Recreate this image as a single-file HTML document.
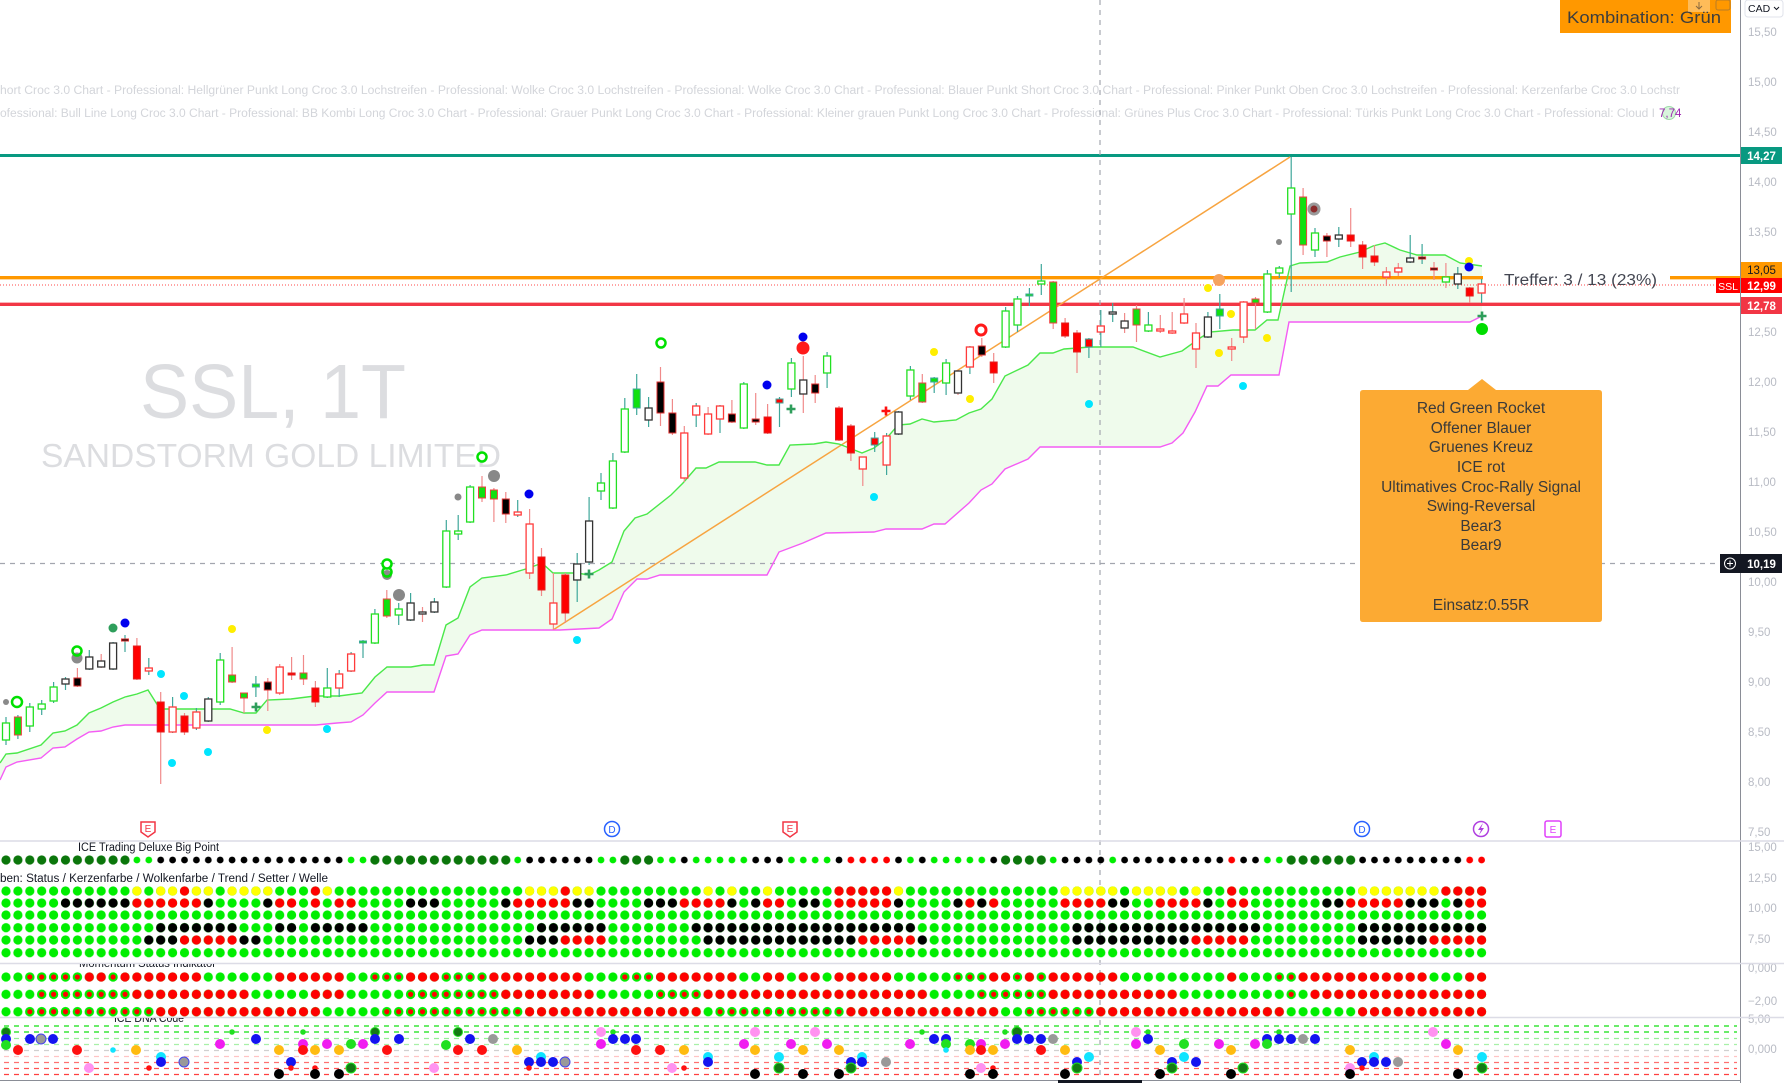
<!DOCTYPE html>
<html><head><meta charset="utf-8"><style>
html,body{margin:0;padding:0;background:#fff;}
body{width:1784px;height:1083px;overflow:hidden;}
svg{display:block;font-family:"Liberation Sans","DejaVu Sans",sans-serif;}
.gh{fill:#fff;stroke:#22e022;stroke-width:1.3}
.gf{fill:#10e010;stroke:#ee4040;stroke-width:1}
.rf{fill:#ff0000;stroke:#e02020;stroke-width:1}
.rh{fill:#fff;stroke:#ff3b3b;stroke-width:1.3}
.kf{fill:#000;stroke:#e03030;stroke-width:1}
.kh{fill:#fff;stroke:#333;stroke-width:1.3}
.ax{fill:#b8bbc4;font-size:11.5px}
.b{fill:#1414f0}.m{fill:#f01cf0}.p{fill:#ff92f0}.o{fill:#ffbb10}.c{fill:#10e4ff}.g{fill:#20e020}.dg{fill:#157a15;stroke:#20e020;stroke-width:1}.r{fill:#ff1010}.k{fill:#000}.gr{fill:#999;stroke:#4444ee;stroke-width:1}
.cy{fill:#00e5ff}.ye{fill:#ffee00}
</style></head><body>
<svg width="1784" height="1083" viewBox="0 0 1784 1083" xmlns="http://www.w3.org/2000/svg">
<defs>
<pattern id="pG" width="11.9" height="12" patternUnits="userSpaceOnUse"><circle cx="6" cy="6" r="4.6" fill="#00ee00"/></pattern>
<pattern id="pY" width="11.9" height="12" patternUnits="userSpaceOnUse"><circle cx="6" cy="6" r="4.6" fill="#ffff00"/></pattern>
<pattern id="pR" width="11.9" height="12" patternUnits="userSpaceOnUse"><circle cx="6" cy="6" r="4.6" fill="#ff0000"/></pattern>
<pattern id="pK" width="11.9" height="12" patternUnits="userSpaceOnUse"><circle cx="6" cy="6" r="4.6" fill="#000"/></pattern>
<pattern id="pX" width="11.9" height="12" patternUnits="userSpaceOnUse"><circle cx="6" cy="6" r="4.6" fill="#00ee00"/><circle cx="6" cy="6" r="2.6" fill="#ff0000"/></pattern>
<pattern id="pD" width="11.9" height="12" patternUnits="userSpaceOnUse"><circle cx="6" cy="6" r="4.6" fill="#0b760b"/></pattern>
<pattern id="pL" width="11.9" height="12" patternUnits="userSpaceOnUse"><circle cx="6" cy="6" r="3.4" fill="#00ee00"/></pattern>
<pattern id="pKs" width="11.9" height="12" patternUnits="userSpaceOnUse"><circle cx="6" cy="6" r="3.4" fill="#000"/></pattern>
<pattern id="pRs" width="11.9" height="12" patternUnits="userSpaceOnUse"><circle cx="6" cy="6" r="3.4" fill="#ff0000"/></pattern>
<clipPath id="c3"><rect x="0" y="964" width="1740" height="60"/></clipPath>
<clipPath id="c4"><rect x="0" y="1018" width="1740" height="70"/></clipPath>
</defs>

<!-- top info text -->
<text x="0" y="94" font-size="11.5" fill="#d3d5da" textLength="1680" lengthAdjust="spacingAndGlyphs">hort Croc 3.0 Chart - Professional: Hellgrüner Punkt Long Croc 3.0 Lochstreifen - Professional: Wolke Croc 3.0 Lochstreifen - Professional: Wolke Croc 3.0 Chart - Professional: Blauer Punkt Short Croc 3.0 Chart - Professional: Pinker Punkt Oben Croc 3.0 Lochstreifen - Professional: Kerzenfarbe Croc 3.0 Lochstr</text>
<text x="0" y="117" font-size="11.5" fill="#d3d5da" textLength="1655" lengthAdjust="spacingAndGlyphs">ofessional: Bull Line Long Croc 3.0 Chart - Professional: BB Kombi Long Croc 3.0 Chart - Professional: Grauer Punkt Long Croc 3.0 Chart - Professional: Kleiner grauen Punkt Long Croc 3.0 Chart - Professional: Grünes Plus Croc 3.0 Chart - Professional: Türkis Punkt Long Croc 3.0 Chart - Professional: Cloud I</text>
<circle cx="1669" cy="113" r="6.5" fill="#d8f5dc" stroke="#9fdca9" stroke-width="1"/>
<text x="1659" y="117" font-size="11.5" fill="#9c27b0">7,74</text>

<!-- watermark -->
<text x="140" y="418" font-size="77" fill="#dcdde0" textLength="266" lengthAdjust="spacingAndGlyphs">SSL, 1T</text>
<text x="41" y="467" font-size="33" fill="#dcdde0" textLength="460" lengthAdjust="spacingAndGlyphs">SANDSTORM GOLD LIMITED</text>

<!-- cloud -->
<polygon fill="#effbec" points="0,763 6,754 17,753 41,745 53,733 65,731 77,725 89,713 101,708 113,702 125,697 137,694 148,690 160,709 230,709 244,713 256,713 267,700 291,699 315,696 339,696 362,693 375,677 387,667 411,667 423,665 434,665 446,625 458,618 470,587 482,578 506,575 529,568 542,563 553,573 577,573 589,575 599,570 612,562 624,531 635,518 647,514 671,495 683,483 696,468 706,468 719,462 755,462 767,465 779,465 790,445 814,444 826,442 839,444 862,453 874,448 885,440 898,425 910,424 922,419 934,422 956,420 969,413 981,409 992,399 1005,376 1028,365 1040,353 1053,353 1064,349 1078,348 1089,347 1133,347 1160,357 1182,351 1200,338 1210,332 1233,330 1255,330 1267,320 1278,320 1290,266 1300,263 1327,262 1340,257 1360,252 1373,246 1385,243 1400,250 1417,255 1445,255 1460,263 1482,266 1482,316 1470,322 1289,322 1279,375 1231,375 1218,386 1207,386 1195,412 1183,433 1172,443 1160,447 1040,447 1028,459 1005,469 992,484 981,490 969,503 945,524 934,524 922,529 886,529 874,532 826,533 803,543 779,552 767,575 660,575 647,579 637,579 624,592 612,619 599,628 560,630 482,630 470,635 458,654 446,656 434,692 387,692 375,703 363,715 351,722 337,723 316,725 125,725 113,727 101,731 89,732 77,739 65,747 53,748 41,758 17,762 6,767 0,780"/>

<!-- horizontal levels -->
<line x1="0" y1="155.5" x2="1740" y2="155.5" stroke="#089981" stroke-width="3"/>
<line x1="0" y1="277.7" x2="1483" y2="277.7" stroke="#ff9800" stroke-width="3.4"/>
<line x1="1670" y1="277.7" x2="1740" y2="277.7" stroke="#ff9800" stroke-width="3.4"/>
<line x1="0" y1="285" x2="1716" y2="285" stroke="#ff4a4a" stroke-width="1" stroke-dasharray="1 2"/>
<line x1="0" y1="304.3" x2="1740" y2="304.3" stroke="#f23645" stroke-width="3.4"/>

<!-- crosshair -->
<line x1="0" y1="563.5" x2="1720" y2="563.5" stroke="#a3a6af" stroke-width="1.2" stroke-dasharray="5 5"/>
<line x1="1100" y1="0" x2="1100" y2="1080" stroke="#a3a6af" stroke-width="1.2" stroke-dasharray="5 5"/>

<!-- trend line -->
<line x1="553" y1="630" x2="1290" y2="157" stroke="#f7a440" stroke-width="1.5"/>

<!-- cloud lines -->
<polyline fill="none" stroke="#4ae84a" stroke-width="1.4" points="0,763 6,754 17,753 41,745 53,733 65,731 77,725 89,713 101,708 113,702 125,697 137,694 148,690 160,709 230,709 244,713 256,713 267,700 291,699 315,696 339,696 362,693 375,677 387,667 411,667 423,665 434,665 446,625 458,618 470,587 482,578 506,575 529,568 542,563 553,573 577,573 589,575 599,570 612,562 624,531 635,518 647,514 671,495 683,483 696,468 706,468 719,462 755,462 767,465 779,465 790,445 814,444 826,442 839,444 862,453 874,448 885,440 898,425 910,424 922,419 934,422 956,420 969,413 981,409 992,399 1005,376 1028,365 1040,353 1053,353 1064,349 1078,348 1089,347 1133,347 1160,357 1182,351 1200,338 1210,332 1233,330 1255,330 1267,320 1278,320 1290,266 1300,263 1327,262 1340,257 1360,252 1373,246 1385,243 1400,250 1417,255 1445,255 1460,263 1482,266"/>
<polyline fill="none" stroke="#f45cf4" stroke-width="1.4" points="0,780 6,767 17,762 41,758 53,748 65,747 77,739 89,732 101,731 113,727 125,725 316,725 337,723 351,722 363,715 375,703 387,692 434,692 446,656 458,654 470,635 482,630 560,630 599,628 612,619 624,592 637,579 647,579 660,575 767,575 779,552 803,543 826,533 874,532 886,529 922,529 934,524 945,524 969,503 981,490 992,484 1005,469 1028,459 1040,447 1160,447 1172,443 1183,433 1195,412 1207,386 1218,386 1231,375 1279,375 1289,322 1470,322 1482,316"/>

<!-- wicks -->
<path fill="none" stroke="#3fa79b" stroke-width="1.2" d="M6 717V745M17.9 715V739M29.8 703V732M41.7 700V715M53.6 682V703M65.5 677V690M89.3 650V670M113.1 642V670M125 635V652M148.8 658V675M172.6 697V733M196.4 708V730M208.3 697V722M220.2 653V705M255.9 676V697M327.3 668V698M339.2 670V697M351.1 652V672M363 640V658M374.9 609V644M398.7 603V625M410.6 593V621M434.4 598V613M446.3 520V588M458.2 515V540M470.1 485V523M517.7 500V517M577.2 553V602M589.1 497V565M601 473V500M612.9 453V509M624.8 398V453M636.7 374V415M648.6 397V427M696.2 403V427M720 405V433M743.8 382V429M779.5 397V427M791.4 358V397M827.1 352V388M874.7 432V452M886.6 433V475M898.5 411V435M910.4 366V400M934.2 377V393M946.1 359V395M969.9 346V374M1005.6 307V348M1017.5 296V332M1029.4 288V306M1041.3 264V295M1088.9 338V358M1100.8 310V347M1112.7 303V322M1148.4 312V332M1207.9 312V338M1219.8 294V329M1267.4 270V313M1279.3 266V278M1291.2 157V292M1315 228V257M1338.8 227V247M1410.2 235V263M1422.1 244V264M1457.8 267V289M1481.6 279V303"/>
<path fill="none" stroke="#f08a8a" stroke-width="1.2" d="M77.4 668V687M101.2 654V668M136.9 638V680M160.7 692V784M184.5 713V735M232.1 647V683M244 693V713M267.8 678V711M279.7 664V695M291.6 657V680M303.5 655V685M315.4 681V707M386.8 590V618M422.5 607V622M482 476V502M493.9 488V522M505.8 492V523M529.6 509V579M541.5 548V596M553.4 573V630M565.3 573V623M660.5 367V426M672.4 399V435M684.3 426V482M708.1 407V435M731.9 400V423M755.7 393V425M767.6 404V434M803.3 356V413M815.2 375V403M839 406V441M850.9 424V461M862.8 457V486M922.3 374V403M958 370V395M981.8 338V357M993.7 353V383M1053.2 281V329M1065.1 318V338M1077 330V373M1124.6 313V333M1136.5 305V342M1160.3 315V333M1172.2 312V334M1184.1 298V324M1196 323V368M1231.7 338V361M1243.6 301V343M1255.5 297V329M1303.1 188V255M1326.9 233V257M1350.7 208V247M1362.6 241V269M1374.5 245V266M1386.4 267V286M1398.3 263V276M1434 262V280M1445.9 263V288M1469.7 287V303"/>

<!-- bodies -->
<g>
<rect class="gh" x="2.5" y="723" width="7" height="17"/>
<rect class="gf" x="14.4" y="717" width="7" height="18"/>
<rect class="gh" x="26.3" y="707" width="7" height="19"/>
<rect class="gh" x="38.2" y="704" width="7" height="5"/>
<rect class="gh" x="50.1" y="687" width="7" height="14"/>
<rect class="kh" x="62" y="679" width="7" height="5"/>
<rect class="kf" x="73.9" y="678" width="7" height="8"/>
<rect class="kh" x="85.8" y="657" width="7" height="12"/>
<rect class="kh" x="97.7" y="661" width="7" height="6"/>
<rect class="kh" x="109.6" y="643" width="7" height="26"/>
<rect class="kf" x="121.5" y="639" width="7" height="2"/>
<rect class="rf" x="133.4" y="646" width="7" height="33"/>
<rect class="rh" x="145.3" y="668" width="7" height="3"/>
<rect class="rf" x="157.2" y="702" width="7" height="30"/>
<rect class="rh" x="169.1" y="707" width="7" height="25"/>
<rect class="rf" x="181" y="716" width="7" height="16"/>
<rect class="rh" x="192.9" y="712" width="7" height="16"/>
<rect class="kh" x="204.8" y="699" width="7" height="22"/>
<rect class="gh" x="216.7" y="660" width="7" height="42"/>
<rect class="gf" x="228.6" y="675" width="7" height="7"/>
<rect class="gf" x="240.5" y="693" width="7" height="5"/>
<rect class="gf" x="252.4" y="684" width="7" height="3" style="stroke:#3fa79b"/>
<rect class="kf" x="264.3" y="682" width="7" height="8"/>
<rect class="rh" x="276.2" y="667" width="7" height="26"/>
<rect class="rf" x="288.1" y="673" width="7" height="2"/>
<rect class="gf" x="300" y="673" width="7" height="6"/>
<rect class="rf" x="311.9" y="688" width="7" height="14"/>
<rect class="gh" x="323.8" y="688" width="7" height="9"/>
<rect class="rh" x="335.7" y="674" width="7" height="14"/>
<rect class="rh" x="347.6" y="654" width="7" height="17"/>
<rect class="gf" x="359.5" y="641" width="7" height="2" style="stroke:#3fa79b"/>
<rect class="gh" x="371.4" y="614" width="7" height="29"/>
<rect class="gf" x="383.3" y="599" width="7" height="17"/>
<rect class="gh" x="395.2" y="609" width="7" height="6"/>
<rect class="kh" x="407.1" y="603" width="7" height="17"/>
<rect class="kh" x="419" y="612" width="7" height="2"/>
<rect class="kh" x="430.9" y="602" width="7" height="10"/>
<rect class="gh" x="442.8" y="531" width="7" height="56"/>
<rect class="gh" x="454.7" y="531" width="7" height="3"/>
<rect class="gh" x="466.6" y="487" width="7" height="35"/>
<rect class="gf" x="478.5" y="487" width="7" height="11"/>
<rect class="gf" x="490.4" y="490" width="7" height="9"/>
<rect class="kf" x="502.3" y="499" width="7" height="15"/>
<rect class="rh" x="514.2" y="512" width="7" height="3"/>
<rect class="rh" x="526.1" y="524" width="7" height="49"/>
<rect class="rf" x="538" y="557" width="7" height="33"/>
<rect class="rh" x="549.9" y="603" width="7" height="21"/>
<rect class="rf" x="561.8" y="575" width="7" height="38"/>
<rect class="kh" x="573.7" y="564" width="7" height="16"/>
<rect class="kh" x="585.6" y="521" width="7" height="41"/>
<rect class="gh" x="597.5" y="483" width="7" height="8"/>
<rect class="gh" x="609.4" y="461" width="7" height="47"/>
<rect class="gh" x="621.3" y="409" width="7" height="43"/>
<rect class="gf" x="633.2" y="389" width="7" height="19" style="stroke:#3fa79b"/>
<rect class="kh" x="645.1" y="408" width="7" height="12"/>
<rect class="kf" x="657" y="382" width="7" height="31"/>
<rect class="kf" x="668.9" y="413" width="7" height="20"/>
<rect class="rh" x="680.8" y="433" width="7" height="45"/>
<rect class="rh" x="692.7" y="406" width="7" height="9"/>
<rect class="rh" x="704.6" y="414" width="7" height="20"/>
<rect class="rh" x="716.5" y="406" width="7" height="13"/>
<rect class="kf" x="728.4" y="414" width="7" height="8"/>
<rect class="gh" x="740.3" y="384" width="7" height="44"/>
<rect class="kf" x="752.2" y="419" width="7" height="3"/>
<rect class="rf" x="764.1" y="417" width="7" height="16"/>
<rect class="rf" x="776" y="399" width="7" height="4" style="stroke:#3fa79b"/>
<rect class="gh" x="787.9" y="363" width="7" height="26"/>
<rect class="kh" x="799.8" y="380" width="7" height="14"/>
<rect class="kf" x="811.7" y="384" width="7" height="9"/>
<rect class="gh" x="823.6" y="356" width="7" height="17"/>
<rect class="rf" x="835.5" y="408" width="7" height="32"/>
<rect class="rf" x="847.4" y="426" width="7" height="27"/>
<rect class="rh" x="859.3" y="457" width="7" height="12"/>
<rect class="rf" x="871.2" y="438" width="7" height="7" style="stroke:#3fa79b"/>
<rect class="rh" x="883.1" y="436" width="7" height="29"/>
<rect class="kh" x="895" y="412" width="7" height="22"/>
<rect class="gh" x="906.9" y="370" width="7" height="26"/>
<rect class="gf" x="918.8" y="383" width="7" height="19"/>
<rect class="gf" x="930.7" y="378" width="7" height="4" style="stroke:#3fa79b"/>
<rect class="gh" x="942.6" y="363" width="7" height="20"/>
<rect class="kh" x="954.5" y="371" width="7" height="22"/>
<rect class="rh" x="966.4" y="347" width="7" height="20"/>
<rect class="kf" x="978.3" y="346" width="7" height="9"/>
<rect class="rf" x="990.2" y="362" width="7" height="11"/>
<rect class="gh" x="1002.1" y="311" width="7" height="36"/>
<rect class="gh" x="1014" y="299" width="7" height="26"/>
<rect class="gf" x="1025.9" y="294" width="7" height="2" style="stroke:#3fa79b"/>
<rect class="gh" x="1037.8" y="281" width="7" height="3"/>
<rect class="gf" x="1049.7" y="282" width="7" height="41"/>
<rect class="rf" x="1061.6" y="323" width="7" height="13"/>
<rect class="rf" x="1073.5" y="333" width="7" height="19"/>
<rect class="rf" x="1085.4" y="339" width="7" height="8" style="stroke:#3fa79b"/>
<rect class="rh" x="1097.3" y="326" width="7" height="6"/>
<rect class="kh" x="1109.2" y="312" width="7" height="2"/>
<rect class="kh" x="1121.1" y="321" width="7" height="7"/>
<rect class="gf" x="1133" y="309" width="7" height="16"/>
<rect class="gh" x="1144.9" y="325" width="7" height="6"/>
<rect class="rh" x="1156.8" y="329" width="7" height="2"/>
<rect class="rh" x="1168.7" y="331" width="7" height="2"/>
<rect class="rh" x="1180.6" y="314" width="7" height="9"/>
<rect class="rh" x="1192.5" y="333" width="7" height="16"/>
<rect class="kh" x="1204.4" y="317" width="7" height="20"/>
<rect class="gf" x="1216.3" y="309" width="7" height="7" style="stroke:#3fa79b"/>
<rect class="rh" x="1228.2" y="347" width="7" height="2"/>
<rect class="rh" x="1240.1" y="302" width="7" height="35"/>
<rect class="gf" x="1252" y="299" width="7" height="4"/>
<rect class="gh" x="1263.9" y="274" width="7" height="38"/>
<rect class="gh" x="1275.8" y="268" width="7" height="5"/>
<rect class="gh" x="1287.7" y="188" width="7" height="26"/>
<rect class="gf" x="1299.6" y="197" width="7" height="48"/>
<rect class="gh" x="1311.5" y="233" width="7" height="17"/>
<rect class="kf" x="1323.4" y="236" width="7" height="5"/>
<rect class="kh" x="1335.3" y="235" width="7" height="4"/>
<rect class="rf" x="1347.2" y="235" width="7" height="6"/>
<rect class="rf" x="1359.1" y="245" width="7" height="12"/>
<rect class="rf" x="1371" y="256" width="7" height="6"/>
<rect class="rh" x="1382.9" y="272" width="7" height="5"/>
<rect class="rh" x="1394.8" y="268" width="7" height="4"/>
<rect class="kh" x="1406.7" y="258" width="7" height="4"/>
<rect class="kf" x="1418.6" y="257" width="7" height="2"/>
<rect class="kf" x="1430.5" y="268" width="7" height="2"/>
<rect class="gh" x="1442.4" y="277" width="7" height="5"/>
<rect class="kh" x="1454.3" y="274" width="7" height="10"/>
<rect class="rf" x="1466.2" y="288" width="7" height="8"/>
<rect class="rh" x="1478.1" y="284" width="7" height="9"/>
</g>

<!-- markers -->
<g>
<circle cx="6" cy="702" r="3" fill="#8a8a8a"/>
<circle cx="17" cy="702" r="5" fill="#fff" stroke="#00e000" stroke-width="2.5"/>
<circle cx="77" cy="658" r="5.5" fill="#8a8a8a"/>
<circle cx="77" cy="651" r="4.5" fill="none" stroke="#00e000" stroke-width="2.5"/>
<circle cx="113" cy="628" r="4.5" fill="#2e9e5b"/>
<circle cx="125" cy="623" r="4.5" fill="#0000ee"/>
<circle class="cy" cx="161" cy="674" r="4"/>
<circle class="cy" cx="184" cy="696" r="4"/>
<circle class="cy" cx="172" cy="763" r="4"/>
<circle class="cy" cx="208" cy="752" r="4"/>
<circle class="cy" cx="327" cy="729" r="4"/>
<circle class="cy" cx="577" cy="640" r="4"/>
<circle class="cy" cx="874" cy="497" r="4"/>
<circle class="cy" cx="1089" cy="404" r="4"/>
<circle class="cy" cx="1243" cy="386" r="4"/>
<circle class="ye" cx="232" cy="629" r="4"/>
<circle class="ye" cx="267" cy="730" r="4"/>
<circle class="ye" cx="934" cy="352" r="4"/>
<circle class="ye" cx="970" cy="399" r="4"/>
<circle class="ye" cx="1208" cy="288" r="4"/>
<circle class="ye" cx="1231" cy="314" r="4"/>
<circle class="ye" cx="1219" cy="353" r="4"/>
<circle class="ye" cx="1267" cy="338" r="4"/>
<circle class="ye" cx="1469" cy="261" r="4"/>
<path stroke="#2e9e5b" stroke-width="2.6" d="M251.5 707h9M256 702.5v9M584.5 574h9M589 569.5v9M786.5 409h9M791 404.5v9M1477.5 316h9M1482 311.5v9"/>
<path stroke="#ff1010" stroke-width="2.6" d="M881.5 411h9M886 406.5v9"/>
<circle cx="387" cy="575" r="5" fill="#8a8a8a"/>
<circle cx="387" cy="572" r="4.5" fill="none" stroke="#00e000" stroke-width="2.5"/>
<circle cx="387" cy="564" r="4.5" fill="#fff" stroke="#00e000" stroke-width="2.5"/>
<circle cx="399" cy="595" r="6" fill="#888"/>
<circle cx="458" cy="497" r="3.5" fill="#888"/>
<circle cx="482" cy="457" r="4.5" fill="#fff" stroke="#00e000" stroke-width="2.5"/>
<circle cx="494" cy="476" r="6" fill="#888"/>
<circle cx="529" cy="494" r="4.5" fill="#0000ee"/>
<circle cx="661" cy="343" r="4.5" fill="#fff" stroke="#00e000" stroke-width="2.5"/>
<circle cx="767" cy="385" r="4.5" fill="#0000ee"/>
<circle cx="803" cy="337" r="4.5" fill="#0000ee"/>
<circle cx="803" cy="348" r="6.5" fill="#ff1a1a"/>
<circle cx="981" cy="330" r="5" fill="#fff" stroke="#ff1a1a" stroke-width="3"/>
<circle cx="1219" cy="280" r="6" fill="#f6a35e"/>
<circle cx="1279" cy="242" r="3" fill="#888"/>
<circle cx="1314" cy="209" r="6.5" fill="#9a9a9a"/>
<circle cx="1314" cy="209" r="3.5" fill="#8b2c2c"/>
<circle cx="1469" cy="267" r="4.5" fill="#0000ee"/>
<circle cx="1482" cy="329" r="6" fill="#00dd00"/>
</g>

<!-- event markers -->
<g font-size="10" text-anchor="middle">
<path d="M141 822h14v10l-7 5l-7-5z" fill="#fff" stroke="#f23645" stroke-width="1.5"/><text x="148" y="832" fill="#f23645">E</text>
<circle cx="612" cy="829" r="7.5" fill="#fff" stroke="#2962ff" stroke-width="1.5"/><text x="612" y="833" fill="#2962ff">D</text>
<path d="M783 822h14v10l-7 5l-7-5z" fill="#fff" stroke="#f23645" stroke-width="1.5"/><text x="790" y="832" fill="#f23645">E</text>
<circle cx="1362" cy="829" r="7.5" fill="#fff" stroke="#2962ff" stroke-width="1.5"/><text x="1362" y="833" fill="#2962ff">D</text>
<circle cx="1481" cy="829" r="7.5" fill="#fff" stroke="#b040e0" stroke-width="1.5"/><path d="M1483 823l-5 7h3l-2 5l5-7h-3z" fill="#b040e0"/>
<rect x="1545" y="821" width="16" height="16" rx="2" fill="#fff" stroke="#e040fb" stroke-width="1.5"/><text x="1553" y="833" fill="#e040fb">E</text>
</g>

<!-- annotation box -->
<path d="M1363 390H1468L1482 379L1496 390H1599Q1602 390 1602 393V619Q1602 622 1599 622H1363Q1360 622 1360 619V393Q1360 390 1363 390Z" fill="#fcaa33"/>
<g font-size="15.5" fill="#3a3a3a" text-anchor="middle">
<text x="1481" y="413">Red Green Rocket</text>
<text x="1481" y="433">Offener Blauer</text>
<text x="1481" y="452">Gruenes Kreuz</text>
<text x="1481" y="472">ICE rot</text>
<text x="1481" y="492">Ultimatives Croc-Rally Signal</text>
<text x="1481" y="511">Swing-Reversal</text>
<text x="1481" y="531">Bear3</text>
<text x="1481" y="550">Bear9</text>
<text x="1481" y="610">Einsatz:0.55R</text>
</g>
<text x="1504" y="285" font-size="15.5" fill="#434651" textLength="153" lengthAdjust="spacingAndGlyphs">Treffer: 3 / 13 (23%)</text>

<!-- pane separators -->
<line x1="0" y1="841" x2="1784" y2="841" stroke="#dcdce6" stroke-width="1.5"/>
<line x1="0" y1="963.5" x2="1784" y2="963.5" stroke="#dcdce6" stroke-width="1.5"/>
<line x1="0" y1="1017.5" x2="1784" y2="1017.5" stroke="#dcdce6" stroke-width="1.5"/>

<!-- pane 2 -->
<text x="78" y="851" font-size="11.5" fill="#131722" textLength="141" lengthAdjust="spacingAndGlyphs">ICE Trading Deluxe Big Point</text>
<text x="0" y="882" font-size="11.5" fill="#131722" textLength="328" lengthAdjust="spacingAndGlyphs">ben: Status / Kerzenfarbe / Wolkenfarbe / Trend / Setter / Welle</text>
<g transform="translate(0,854)">
<rect x="0" y="0" width="130.9" height="12" fill="url(#pD)"/>
<rect x="130.9" y="0" width="23.8" height="12" fill="url(#pL)"/>
<rect x="154.7" y="0" width="190.4" height="12" fill="url(#pKs)"/>
<rect x="345.1" y="0" width="23.8" height="12" fill="url(#pL)"/>
<rect x="368.9" y="0" width="142.8" height="12" fill="url(#pD)"/>
<rect x="511.7" y="0" width="11.9" height="12" fill="url(#pL)"/>
<rect x="523.6" y="0" width="71.4" height="12" fill="url(#pKs)"/>
<rect x="595" y="0" width="23.8" height="12" fill="url(#pL)"/>
<rect x="618.8" y="0" width="35.7" height="12" fill="url(#pD)"/>
<rect x="654.5" y="0" width="23.8" height="12" fill="url(#pL)"/>
<rect x="678.3" y="0" width="11.9" height="12" fill="url(#pKs)"/>
<rect x="690.2" y="0" width="59.5" height="12" fill="url(#pL)"/>
<rect x="749.7" y="0" width="35.7" height="12" fill="url(#pKs)"/>
<rect x="785.4" y="0" width="47.6" height="12" fill="url(#pL)"/>
<rect x="833" y="0" width="11.9" height="12" fill="url(#pKs)"/>
<rect x="844.9" y="0" width="47.6" height="12" fill="url(#pRs)"/>
<rect x="892.5" y="0" width="11.9" height="12" fill="url(#pKs)"/>
<rect x="904.4" y="0" width="11.9" height="12" fill="url(#pL)"/>
<rect x="916.3" y="0" width="11.9" height="12" fill="url(#pKs)"/>
<rect x="928.2" y="0" width="59.5" height="12" fill="url(#pL)"/>
<rect x="987.7" y="0" width="11.9" height="12" fill="url(#pKs)"/>
<rect x="999.6" y="0" width="47.6" height="12" fill="url(#pD)"/>
<rect x="1047.2" y="0" width="11.9" height="12" fill="url(#pL)"/>
<rect x="1059.1" y="0" width="47.6" height="12" fill="url(#pKs)"/>
<rect x="1106.7" y="0" width="11.9" height="12" fill="url(#pL)"/>
<rect x="1118.6" y="0" width="107.1" height="12" fill="url(#pKs)"/>
<rect x="1225.7" y="0" width="11.9" height="12" fill="url(#pRs)"/>
<rect x="1237.6" y="0" width="23.8" height="12" fill="url(#pKs)"/>
<rect x="1261.4" y="0" width="23.8" height="12" fill="url(#pL)"/>
<rect x="1285.2" y="0" width="71.4" height="12" fill="url(#pD)"/>
<rect x="1356.6" y="0" width="107.1" height="12" fill="url(#pKs)"/>
<rect x="1463.7" y="0" width="23.8" height="12" fill="url(#pRs)"/>
</g>
<g transform="translate(0,885)">
<rect x="0" y="0" width="1487.5" height="12" fill="url(#pG)"/>
<rect x="130.9" width="11.9" height="12" fill="url(#pY)"/>
<rect x="154.7" width="23.8" height="12" fill="url(#pY)"/>
<rect x="190.4" width="23.8" height="12" fill="url(#pY)"/>
<rect x="226.1" width="47.6" height="12" fill="url(#pY)"/>
<rect x="321.3" width="11.9" height="12" fill="url(#pY)"/>
<rect x="523.6" width="35.7" height="12" fill="url(#pY)"/>
<rect x="571.2" width="23.8" height="12" fill="url(#pY)"/>
<rect x="702.1" width="11.9" height="12" fill="url(#pY)"/>
<rect x="725.9" width="11.9" height="12" fill="url(#pY)"/>
<rect x="761.6" width="11.9" height="12" fill="url(#pY)"/>
<rect x="892.5" width="11.9" height="12" fill="url(#pY)"/>
<rect x="1059.1" width="59.5" height="12" fill="url(#pY)"/>
<rect x="1130.5" width="47.6" height="12" fill="url(#pY)"/>
<rect x="1190" width="11.9" height="12" fill="url(#pY)"/>
<rect x="1356.6" width="83.3" height="12" fill="url(#pY)"/>
<rect x="178.5" width="11.9" height="12" fill="url(#pR)"/>
<rect x="309.4" width="11.9" height="12" fill="url(#pR)"/>
<rect x="559.3" width="11.9" height="12" fill="url(#pR)"/>
<rect x="833" width="59.5" height="12" fill="url(#pR)"/>
<rect x="1225.7" width="11.9" height="12" fill="url(#pR)"/>
<rect x="1439.9" width="47.6" height="12" fill="url(#pR)"/>
</g>
<g transform="translate(0,897)">
<rect x="0" y="0" width="1487.5" height="12" fill="url(#pG)"/>
<rect x="59.5" width="71.4" height="12" fill="url(#pK)"/>
<rect x="202.3" width="11.9" height="12" fill="url(#pK)"/>
<rect x="261.8" width="11.9" height="12" fill="url(#pK)"/>
<rect x="404.6" width="35.7" height="12" fill="url(#pK)"/>
<rect x="499.8" width="11.9" height="12" fill="url(#pK)"/>
<rect x="571.2" width="23.8" height="12" fill="url(#pK)"/>
<rect x="642.6" width="35.7" height="12" fill="url(#pK)"/>
<rect x="725.9" width="11.9" height="12" fill="url(#pK)"/>
<rect x="749.7" width="11.9" height="12" fill="url(#pK)"/>
<rect x="797.3" width="23.8" height="12" fill="url(#pK)"/>
<rect x="892.5" width="11.9" height="12" fill="url(#pK)"/>
<rect x="952" width="11.9" height="12" fill="url(#pK)"/>
<rect x="975.8" width="11.9" height="12" fill="url(#pK)"/>
<rect x="1106.7" width="23.8" height="12" fill="url(#pK)"/>
<rect x="1201.9" width="11.9" height="12" fill="url(#pK)"/>
<rect x="1320.9" width="23.8" height="12" fill="url(#pK)"/>
<rect x="1404.2" width="35.7" height="12" fill="url(#pK)"/>
<rect x="1451.8" width="11.9" height="12" fill="url(#pK)"/>
<rect x="130.9" width="71.4" height="12" fill="url(#pR)"/>
<rect x="273.7" width="23.8" height="12" fill="url(#pR)"/>
<rect x="309.4" width="11.9" height="12" fill="url(#pR)"/>
<rect x="333.2" width="23.8" height="12" fill="url(#pR)"/>
<rect x="511.7" width="59.5" height="12" fill="url(#pR)"/>
<rect x="678.3" width="47.6" height="12" fill="url(#pR)"/>
<rect x="761.6" width="23.8" height="12" fill="url(#pR)"/>
<rect x="833" width="59.5" height="12" fill="url(#pR)"/>
<rect x="963.9" width="11.9" height="12" fill="url(#pR)"/>
<rect x="987.7" width="11.9" height="12" fill="url(#pR)"/>
<rect x="1059.1" width="47.6" height="12" fill="url(#pR)"/>
<rect x="1154.3" width="47.6" height="12" fill="url(#pR)"/>
<rect x="1225.7" width="23.8" height="12" fill="url(#pR)"/>
<rect x="1344.7" width="59.5" height="12" fill="url(#pR)"/>
<rect x="1463.7" width="23.8" height="12" fill="url(#pR)"/>
</g>
<g transform="translate(0,909)">
<rect x="0" y="0" width="1487.5" height="12" fill="url(#pG)"/>
</g>
<g transform="translate(0,921.7)">
<rect x="0" y="0" width="1487.5" height="12" fill="url(#pG)"/>
<rect x="154.7" width="83.3" height="12" fill="url(#pK)"/>
<rect x="273.7" width="23.8" height="12" fill="url(#pK)"/>
<rect x="309.4" width="59.5" height="12" fill="url(#pK)"/>
<rect x="535.5" width="71.4" height="12" fill="url(#pK)"/>
<rect x="690.2" width="226.1" height="12" fill="url(#pK)"/>
<rect x="1071" width="190.4" height="12" fill="url(#pK)"/>
<rect x="1356.6" width="130.9" height="12" fill="url(#pK)"/>
</g>
<g transform="translate(0,934)">
<rect x="0" y="0" width="1487.5" height="12" fill="url(#pG)"/>
<rect x="142.8" width="35.7" height="12" fill="url(#pK)"/>
<rect x="238" width="23.8" height="12" fill="url(#pK)"/>
<rect x="523.6" width="35.7" height="12" fill="url(#pK)"/>
<rect x="702.1" width="154.7" height="12" fill="url(#pK)"/>
<rect x="916.3" width="11.9" height="12" fill="url(#pK)"/>
<rect x="1071" width="119" height="12" fill="url(#pK)"/>
<rect x="1356.6" width="71.4" height="12" fill="url(#pK)"/>
<rect x="178.5" width="59.5" height="12" fill="url(#pR)"/>
<rect x="559.3" width="47.6" height="12" fill="url(#pR)"/>
<rect x="856.8" width="59.5" height="12" fill="url(#pR)"/>
<rect x="1190" width="59.5" height="12" fill="url(#pR)"/>
<rect x="1428" width="59.5" height="12" fill="url(#pR)"/>
</g>
<g transform="translate(0,946.7)">
<rect x="0" y="0" width="1487.5" height="12" fill="url(#pG)"/>
</g>

<!-- pane 3 -->
<g clip-path="url(#c3)"><text x="79" y="967" font-size="11.5" fill="#131722" textLength="137" lengthAdjust="spacingAndGlyphs">Momentum Status Indikator</text></g>
<g transform="translate(0,971)">
<rect x="0" y="0" width="1487.5" height="12" fill="url(#pG)"/>
<rect x="23.8" width="59.5" height="12" fill="url(#pX)"/>
<rect x="107.1" width="11.9" height="12" fill="url(#pX)"/>
<rect x="368.9" width="35.7" height="12" fill="url(#pX)"/>
<rect x="440.3" width="47.6" height="12" fill="url(#pX)"/>
<rect x="618.8" width="35.7" height="12" fill="url(#pX)"/>
<rect x="952" width="35.7" height="12" fill="url(#pX)"/>
<rect x="1011.5" width="11.9" height="12" fill="url(#pX)"/>
<rect x="1035.3" width="11.9" height="12" fill="url(#pX)"/>
<rect x="1273.3" width="23.8" height="12" fill="url(#pX)"/>
<rect x="83.3" width="23.8" height="12" fill="url(#pR)"/>
<rect x="119" width="83.3" height="12" fill="url(#pR)"/>
<rect x="273.7" width="71.4" height="12" fill="url(#pR)"/>
<rect x="404.6" width="35.7" height="12" fill="url(#pR)"/>
<rect x="487.9" width="95.2" height="12" fill="url(#pR)"/>
<rect x="654.5" width="83.3" height="12" fill="url(#pR)"/>
<rect x="761.6" width="23.8" height="12" fill="url(#pR)"/>
<rect x="797.3" width="23.8" height="12" fill="url(#pR)"/>
<rect x="833" width="59.5" height="12" fill="url(#pR)"/>
<rect x="987.7" width="23.8" height="12" fill="url(#pR)"/>
<rect x="1023.4" width="11.9" height="12" fill="url(#pR)"/>
<rect x="1047.2" width="71.4" height="12" fill="url(#pR)"/>
<rect x="1225.7" width="11.9" height="12" fill="url(#pR)"/>
<rect x="1297.1" width="130.9" height="12" fill="url(#pR)"/>
<rect x="1463.7" width="23.8" height="12" fill="url(#pR)"/>
</g>
<g transform="translate(0,988.3)">
<rect x="0" y="0" width="1487.5" height="12" fill="url(#pG)"/>
<rect x="35.7" width="95.2" height="12" fill="url(#pX)"/>
<rect x="404.6" width="95.2" height="12" fill="url(#pX)"/>
<rect x="654.5" width="47.6" height="12" fill="url(#pX)"/>
<rect x="975.8" width="71.4" height="12" fill="url(#pX)"/>
<rect x="1285.2" width="11.9" height="12" fill="url(#pX)"/>
<rect x="130.9" width="119" height="12" fill="url(#pR)"/>
<rect x="309.4" width="35.7" height="12" fill="url(#pR)"/>
<rect x="499.8" width="95.2" height="12" fill="url(#pR)"/>
<rect x="702.1" width="226.1" height="12" fill="url(#pR)"/>
<rect x="1047.2" width="130.9" height="12" fill="url(#pR)"/>
<rect x="1309" width="178.5" height="12" fill="url(#pR)"/>
</g>
<g transform="translate(0,1005.7)">
<rect x="0" y="0" width="1487.5" height="12" fill="url(#pG)"/>
<rect x="23.8" width="130.9" height="12" fill="url(#pX)"/>
<rect x="380.8" width="142.8" height="12" fill="url(#pX)"/>
<rect x="714" width="130.9" height="12" fill="url(#pX)"/>
<rect x="1023.4" width="71.4" height="12" fill="url(#pX)"/>
<rect x="154.7" width="166.6" height="12" fill="url(#pR)"/>
<rect x="523.6" width="178.5" height="12" fill="url(#pR)"/>
<rect x="844.9" width="154.7" height="12" fill="url(#pR)"/>
<rect x="1094.8" width="190.4" height="12" fill="url(#pR)"/>
<rect x="1356.6" width="130.9" height="12" fill="url(#pR)"/>
</g>

<!-- pane 4 -->
<g clip-path="url(#c4)"><text x="114" y="1022" font-size="11.5" fill="#131722" textLength="70" lengthAdjust="spacingAndGlyphs">ICE DNA Code</text></g>
<g stroke-width="1.3" stroke-dasharray="5 5">
<line x1="4" y1="1026" x2="1737" y2="1026" stroke="#10e010"/>
<line x1="4" y1="1032" x2="1737" y2="1032" stroke="#10e010"/>
<line x1="4" y1="1038.5" x2="1737" y2="1038.5" stroke="#95ee95"/>
<line x1="4" y1="1044.5" x2="1737" y2="1044.5" stroke="#a8f0a8"/>
<line x1="4" y1="1050.5" x2="1737" y2="1050.5" stroke="#d0d0d0"/>
<line x1="4" y1="1056.5" x2="1737" y2="1056.5" stroke="#ffc4c4"/>
<line x1="4" y1="1062.5" x2="1737" y2="1062.5" stroke="#ff7070"/>
<line x1="4" y1="1068.5" x2="1737" y2="1068.5" stroke="#ff5555"/>
<line x1="4" y1="1074.5" x2="1737" y2="1074.5" stroke="#ff4040"/>
</g>
<g>
<circle class="dg" cx="6" cy="1032" r="4.5"/><circle class="b" cx="6" cy="1039" r="5"/><circle class="g" cx="6" cy="1045" r="5"/><circle class="r" cx="18" cy="1050" r="5"/><circle class="b" cx="30" cy="1039" r="5"/><circle class="gr" cx="41" cy="1039" r="5"/><circle class="b" cx="53" cy="1039" r="5"/><circle class="r" cx="77" cy="1050" r="5"/><circle class="p" cx="89" cy="1068" r="5"/><circle class="c" cx="113" cy="1050" r="2.8"/><circle class="o" cx="136" cy="1050" r="5"/><circle class="r" cx="149" cy="1068" r="2.8"/><circle class="c" cx="161" cy="1057" r="5"/><circle class="b" cx="161" cy="1062" r="5"/><circle class="gr" cx="184" cy="1062" r="5"/><circle class="m" cx="220" cy="1044" r="5"/><circle class="g" cx="232" cy="1032" r="2.8"/><circle class="b" cx="256" cy="1039" r="5"/><circle class="o" cx="279" cy="1050" r="5"/><circle class="k" cx="279" cy="1074" r="5"/><circle class="b" cx="291" cy="1062" r="5"/><circle class="r" cx="291" cy="1068" r="2.8"/><circle class="g" cx="303" cy="1032" r="2.8"/><circle class="m" cx="303" cy="1044" r="5"/><circle class="r" cx="303" cy="1050" r="5"/><circle class="o" cx="315" cy="1050" r="5"/><circle class="r" cx="315" cy="1068" r="2.8"/><circle class="k" cx="315" cy="1074" r="5"/><circle class="m" cx="327" cy="1044" r="5"/><circle class="o" cx="339" cy="1050" r="5"/><circle class="k" cx="339" cy="1074" r="5"/><circle class="g" cx="351" cy="1044" r="5"/><circle class="dg" cx="351" cy="1068" r="5"/><circle class="m" cx="363" cy="1044" r="5"/><circle class="dg" cx="375" cy="1032" r="4.5"/><circle class="b" cx="375" cy="1039" r="5"/><circle class="r" cx="387" cy="1050" r="5"/><circle class="b" cx="399" cy="1039" r="5"/><circle class="p" cx="434" cy="1068" r="5"/><circle class="g" cx="446" cy="1045" r="5"/><circle class="dg" cx="458" cy="1032" r="4.5"/><circle class="r" cx="458" cy="1050" r="5"/><circle class="b" cx="470" cy="1039" r="5"/><circle class="r" cx="482" cy="1050" r="5"/><circle class="gr" cx="493" cy="1039" r="5" style="stroke:none"/>
<circle class="o" cx="517" cy="1050" r="5"/><circle class="b" cx="529" cy="1062" r="5"/><circle class="r" cx="529" cy="1068" r="2.8"/><circle class="c" cx="541" cy="1057" r="5"/><circle class="b" cx="541" cy="1062" r="5"/><circle class="b" cx="553" cy="1062" r="5"/><circle class="gr" cx="565" cy="1062" r="5"/><circle class="p" cx="601" cy="1032" r="5"/><circle class="m" cx="601" cy="1044" r="5"/><circle class="g" cx="613" cy="1032" r="2.8"/><circle class="b" cx="613" cy="1039" r="5"/><circle class="b" cx="625" cy="1039" r="5"/><circle class="b" cx="636" cy="1039" r="5"/><circle class="r" cx="636" cy="1050" r="5"/><circle class="r" cx="660" cy="1050" r="5"/><circle class="p" cx="672" cy="1068" r="5"/><circle class="o" cx="684" cy="1050" r="5"/><circle class="r" cx="684" cy="1068" r="2.8"/><circle class="c" cx="708" cy="1057" r="5"/><circle class="b" cx="708" cy="1062" r="5"/><circle class="m" cx="744" cy="1044" r="5"/><circle class="p" cx="755" cy="1032" r="5"/><circle class="o" cx="755" cy="1050" r="5"/><circle class="k" cx="755" cy="1074" r="5"/><circle class="c" cx="779" cy="1057" r="5"/><circle class="dg" cx="779" cy="1068" r="5"/><circle class="m" cx="791" cy="1044" r="5"/><circle class="o" cx="803" cy="1050" r="5"/><circle class="k" cx="803" cy="1074" r="5"/><circle class="p" cx="815" cy="1032" r="5"/><circle class="m" cx="827" cy="1044" r="5"/><circle class="o" cx="839" cy="1050" r="5"/><circle class="k" cx="839" cy="1074" r="5"/><circle class="b" cx="851" cy="1062" r="5"/><circle class="dg" cx="851" cy="1068" r="5"/><circle class="c" cx="862" cy="1057" r="5"/><circle class="b" cx="862" cy="1062" r="5"/><circle class="gr" cx="886" cy="1062" r="5" style="stroke:none"/><circle class="m" cx="910" cy="1044" r="5"/><circle class="g" cx="922" cy="1032" r="2.8"/><circle class="b" cx="934" cy="1039" r="5"/><circle class="b" cx="946" cy="1039" r="5"/><circle class="g" cx="946" cy="1044" r="5"/><circle class="c" cx="946" cy="1050" r="2.8"/><circle class="g" cx="970" cy="1044" r="5"/><circle class="o" cx="970" cy="1050" r="5"/><circle class="k" cx="970" cy="1074" r="5"/><circle class="m" cx="981" cy="1044" r="5"/><circle class="r" cx="981" cy="1050" r="5"/><circle class="p" cx="981" cy="1068" r="5"/><circle class="o" cx="993" cy="1050" r="5"/><circle class="r" cx="993" cy="1068" r="2.8"/><circle class="k" cx="993" cy="1074" r="5"/>
<circle class="g" cx="1005" cy="1032" r="2.8"/><circle class="m" cx="1005" cy="1044" r="5"/><circle class="dg" cx="1017" cy="1032" r="5"/><circle class="b" cx="1017" cy="1039" r="5"/><circle class="b" cx="1029" cy="1039" r="5"/><circle class="b" cx="1041" cy="1039" r="5"/><circle class="r" cx="1041" cy="1050" r="5"/><circle class="gr" cx="1053" cy="1039" r="5" style="stroke:none"/><circle class="o" cx="1065" cy="1050" r="5"/><circle class="k" cx="1065" cy="1074" r="5"/><circle class="b" cx="1077" cy="1062" r="5"/><circle class="dg" cx="1077" cy="1068" r="5"/><circle class="c" cx="1089" cy="1057" r="5"/><circle class="p" cx="1136" cy="1032" r="5"/><circle class="m" cx="1136" cy="1044" r="5"/><circle class="g" cx="1148" cy="1032" r="2.8"/><circle class="b" cx="1148" cy="1039" r="5"/><circle class="o" cx="1160" cy="1050" r="5"/><circle class="k" cx="1160" cy="1074" r="5"/><circle class="b" cx="1172" cy="1062" r="5"/><circle class="dg" cx="1172" cy="1068" r="5"/><circle class="g" cx="1184" cy="1044" r="5"/><circle class="c" cx="1184" cy="1057" r="5"/><circle class="b" cx="1196" cy="1062" r="5"/><circle class="m" cx="1219" cy="1044" r="5"/><circle class="o" cx="1231" cy="1050" r="5"/><circle class="k" cx="1231" cy="1074" r="5"/><circle class="dg" cx="1243" cy="1068" r="5"/><circle class="m" cx="1255" cy="1044" r="5"/><circle class="b" cx="1267" cy="1039" r="5"/><circle class="g" cx="1267" cy="1044" r="5"/><circle class="g" cx="1279" cy="1032" r="2.8"/><circle class="b" cx="1279" cy="1039" r="5"/><circle class="b" cx="1291" cy="1039" r="5"/><circle class="gr" cx="1303" cy="1039" r="5" style="stroke:none"/><circle class="b" cx="1315" cy="1039" r="5"/><circle class="o" cx="1350" cy="1050" r="5"/><circle class="p" cx="1350" cy="1068" r="5"/><circle class="k" cx="1350" cy="1074" r="5"/><circle class="b" cx="1362" cy="1062" r="5"/><circle class="r" cx="1362" cy="1068" r="2.8"/><circle class="c" cx="1374" cy="1057" r="5"/><circle class="b" cx="1374" cy="1062" r="5"/><circle class="b" cx="1386" cy="1062" r="5"/><circle class="gr" cx="1398" cy="1062" r="5" style="stroke:none"/><circle class="p" cx="1433" cy="1032" r="5"/><circle class="m" cx="1446" cy="1044" r="5"/><circle class="o" cx="1458" cy="1050" r="5"/><circle class="k" cx="1458" cy="1074" r="5"/><circle class="c" cx="1482" cy="1057" r="5"/><circle class="dg" cx="1482" cy="1068" r="5"/>
</g>

<!-- bottom -->
<line x1="0" y1="1080.5" x2="1740" y2="1080.5" stroke="#8a8d96" stroke-width="1"/>
<rect x="1058" y="1080" width="84" height="3" fill="#131722"/>

<!-- right axis -->
<rect x="1741" y="0" width="43" height="1083" fill="#fff"/>
<line x1="1740.5" y1="0" x2="1740.5" y2="1083" stroke="#8a8d96" stroke-width="1"/>
<g class="ax">
<text x="1748" y="36">15,50</text><text x="1748" y="86">15,00</text><text x="1748" y="136">14,50</text><text x="1748" y="186">14,00</text><text x="1748" y="236">13,50</text><text x="1748" y="336">12,50</text><text x="1748" y="386">12,00</text><text x="1748" y="436">11,50</text><text x="1748" y="486">11,00</text><text x="1748" y="536">10,50</text><text x="1748" y="586">10,00</text><text x="1748" y="636">9,50</text><text x="1748" y="686">9,00</text><text x="1748" y="736">8,50</text><text x="1748" y="786">8,00</text><text x="1748" y="836">7,50</text>
<text x="1748" y="851">15,00</text><text x="1748" y="882">12,50</text><text x="1748" y="912">10,00</text><text x="1748" y="943">7,50</text>
<text x="1748" y="972">0,000</text><text x="1748" y="1005">−2,00</text>
<text x="1748" y="1023">5,00</text><text x="1748" y="1053">0,000</text>
</g>
<line x1="1740" y1="841" x2="1784" y2="841" stroke="#dcdce6" stroke-width="1.5"/>
<line x1="1740" y1="963.5" x2="1784" y2="963.5" stroke="#dcdce6" stroke-width="1.5"/>
<line x1="1740" y1="1017.5" x2="1784" y2="1017.5" stroke="#dcdce6" stroke-width="1.5"/>

<!-- price labels -->
<g font-size="11.5" font-weight="bold" text-anchor="middle">
<rect x="1741" y="147" width="41" height="17" fill="#089981"/><text x="1761.5" y="160" fill="#fff">14,27</text>
<rect x="1741" y="262" width="41" height="16" fill="#ff9800"/><text x="1761.5" y="274" fill="#131722" font-weight="normal">13,05</text>
<rect x="1716" y="278" width="24" height="15" fill="#ff0000"/><text x="1728" y="290" fill="#fff" font-weight="normal" font-size="10.5">SSL</text>
<rect x="1741" y="278" width="41" height="15" fill="#ff0000"/><text x="1761.5" y="290" fill="#fff">12,99</text>
<rect x="1741" y="297" width="41" height="17" fill="#f23645"/><text x="1761.5" y="310" fill="#fff">12,78</text>
<rect x="1720" y="554" width="21" height="19" fill="#131722"/><circle cx="1730" cy="563.5" r="5.5" fill="none" stroke="#fff" stroke-width="1"/><path d="M1727 563.5h6M1730 560.5v6" stroke="#fff" stroke-width="1"/>
<rect x="1741" y="554" width="41" height="19" fill="#131722"/><text x="1761.5" y="568" fill="#fff">10,19</text>
</g>

<!-- top right -->
<rect x="1560" y="0" width="171" height="33" fill="#ff9800"/>
<text x="1567" y="23" font-size="17" fill="#3d3d3d" textLength="154" lengthAdjust="spacingAndGlyphs">Kombination: Grün</text>
<rect x="1688" y="0" width="22" height="12" fill="#fff" opacity="0.35"/>
<path d="M1699 2v7M1696 6l3 3l3-3" stroke="#8a6a40" stroke-width="1" fill="none"/>
<rect x="1716" y="0" width="14" height="10" rx="2" fill="none" stroke="#8a6a40" stroke-width="1" opacity="0.6"/>
<rect x="1745" y="0" width="38" height="17" rx="3" fill="#fff" stroke="#e0e3eb" stroke-width="1"/>
<text x="1748" y="12" font-size="10.5" fill="#131722">CAD</text>
<path d="M1774 7l2.5 2.5l2.5-2.5" stroke="#131722" stroke-width="1" fill="none"/>
</svg>
</body></html>
